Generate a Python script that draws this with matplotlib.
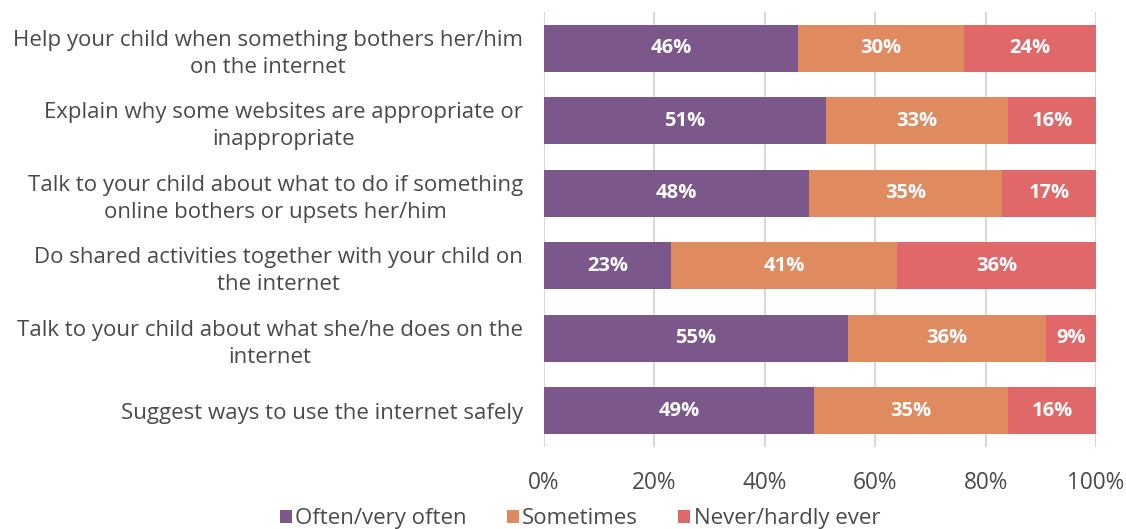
import matplotlib
matplotlib.use("Agg")
import matplotlib.pyplot as plt
from matplotlib.patches import Patch
import numpy as np

plt.rcParams['font.family'] = ['Open Sans', 'DejaVu Sans']

categories = [
    "Help your child when something bothers her/him\non the internet",
    "Explain why some websites are appropriate or\ninappropriate",
    "Talk to your child about what to do if something\nonline bothers or upsets her/him",
    "Do shared activities together with your child on\nthe internet",
    "Talk to your child about what she/he does on the\ninternet",
    "Suggest ways to use the internet safely",
]
often = [46, 51, 48, 23, 55, 49]
sometimes = [30, 33, 35, 41, 36, 35]
never = [24, 16, 17, 36, 9, 16]
series_names = ["Often/very often", "Sometimes", "Never/hardly ever"]
colors = ["#7B578B", "#E08A60", "#E06868"]
x_ticks = [0, 20, 40, 60, 80, 100]

fig = plt.figure(figsize=(11.26, 5.29), dpi=100)
ax = fig.add_axes([0.4831, 0.155, 0.4903, 0.8223])

y = np.arange(len(categories))
left = np.zeros(len(categories))
for vals, col in zip([often, sometimes, never], colors):
    ax.barh(y, vals, left=left, height=0.65, color=col, zorder=3)
    for yi, v, l in zip(y, vals, left):
        ax.text(l + v / 2, yi, f"{v}%", ha='center', va='center', color='white',
                fontsize=14.5, fontweight='bold', zorder=4)
    left = left + np.array(vals)

ax.set_ylim(len(categories) - 0.5, -0.5)
ax.set_xlim(0, 100)
ax.set_xticks(x_ticks)
ax.set_xticklabels([f"{t}%" for t in x_ticks], fontsize=16.3, color='#4a4a4a')
ax.set_yticks(y)
ax.set_yticklabels(categories, fontsize=16.05, color='#4a4a4a', linespacing=1.38,
                   multialignment='center')
ax.tick_params(axis='x', length=0, pad=17)
ax.tick_params(axis='y', length=0, pad=15)
for s in ax.spines.values():
    s.set_visible(False)
ax.grid(axis='x', color='#d9d9d9', linewidth=1.5, zorder=0)
ax.set_axisbelow(True)

handles = [Patch(facecolor=c, label=n) for c, n in zip(colors, series_names)]
fig.legend(handles=handles, loc='lower center', bbox_to_anchor=(0.515, -0.038), ncol=3,
           frameon=False, fontsize=16, handlelength=0.55, handleheight=0.55,
           handletextpad=0.15, columnspacing=1.8, labelcolor='#4a4a4a')

fig.savefig("out.png", dpi=100)
